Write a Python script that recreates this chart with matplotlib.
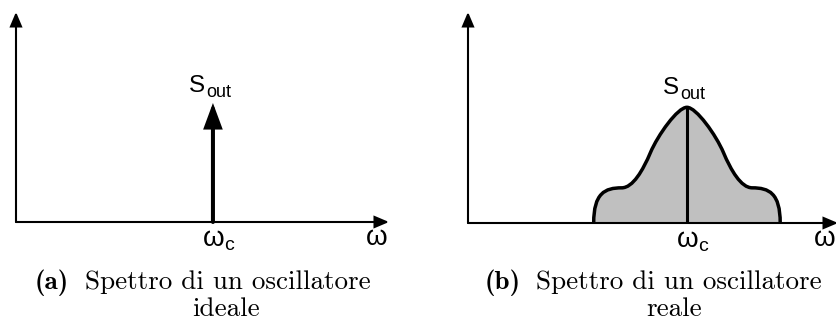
import matplotlib
matplotlib.use("Agg")
import matplotlib.pyplot as plt
from matplotlib.path import Path
from matplotlib.patches import PathPatch

plt.rcParams["font.family"] = ["Liberation Sans", "DejaVu Sans"]

W, H = 837, 322

# frequency axis (omega) and spectrum axis (S) lengths, arbitrary units
axis_len_x = [10.0, 9.92]
axis_len_y = [6.0, 6.0]

# (a) ideal oscillator: single spectral line
omega_c_ideal = 5.28
line_height = 3.4

# (b) real oscillator: centre frequency and half-profile of the spectrum
# (cubic bezier control points from the peak outwards, offsets from omega_c)
omega_c_real = 5.87
profile_dw = [0.00, 0.25, 0.78, 0.98, 1.18, 1.45, 1.75, 2.20, 2.50, 2.50]
profile_s = [3.29, 3.29, 2.50, 2.00, 1.50, 1.00, 1.00, 1.00, 0.85, 0.00]

captions = [("(a)", "Spettro di un oscillatore", "ideale"),
            ("(b)", "Spettro di un oscillatore", "reale")]


def px_axes(fig, x0, y_axis, x1, y_top):
    """axes placed by pixel box, origin at (x0, y_axis)"""
    ax = fig.add_axes([x0 / W, (H - y_axis) / H, (x1 - x0) / W, (y_axis - y_top) / H])
    ax.set_xlim(0, 10)
    ax.set_ylim(0, 6)
    ax.axis("off")
    return ax


def arrow(ax, start, end, lw, hl, hw):
    ax.annotate("", xy=end, xytext=start,
                arrowprops=dict(arrowstyle=f"-|>,head_length={hl},head_width={hw}",
                                lw=lw, color="black", mutation_scale=10,
                                shrinkA=0, shrinkB=0, joinstyle="miter"),
                annotation_clip=False)


def draw_axes(ax, lx, ly):
    arrow(ax, (0, 0), (lx, 0), 1.5, 0.85, 0.36)
    arrow(ax, (0, 0), (0, ly), 1.5, 0.85, 0.36)


def label_s(ax, x, top, dy):
    ax.text(x - 0.64, top + dy, "S", fontsize=17.5, ha="left", va="baseline")
    ax.text(x - 0.17, top + dy - 0.13, "out", fontsize=13, ha="left", va="baseline")


def label_omega(ax, wc, x_omega):
    ax.text(wc - 0.28, -0.69, "ω", fontsize=20, ha="left", va="baseline")
    ax.text(wc + 0.31, -0.8, "c", fontsize=14, ha="left", va="baseline")
    ax.text(x_omega, -0.66, "ω", fontsize=20, ha="left", va="baseline")


def main():
    fig = plt.figure(figsize=(W / 100, H / 100), dpi=100)

    # (a) ideal spectrum
    ax1 = px_axes(fig, 16, 222, 389, 12)
    draw_axes(ax1, axis_len_x[0], axis_len_y[0])
    arrow(ax1, (omega_c_ideal, 0), (omega_c_ideal, line_height), 2.9, 1.35, 0.5)
    label_s(ax1, omega_c_ideal, line_height, 0.31)
    label_omega(ax1, omega_c_ideal, 9.38)

    # (b) real spectrum
    ax2 = px_axes(fig, 468, 223, 841, 12)
    right = [(omega_c_real + dw, s) for dw, s in zip(profile_dw, profile_s)]
    left = [(omega_c_real - dw, s) for dw, s in zip(profile_dw, profile_s)][::-1]
    verts = left + right[1:]
    codes = [Path.MOVETO] + [Path.CURVE4] * (len(verts) - 1)
    outline = Path(verts, codes)
    fill = Path(verts + [verts[0]], codes + [Path.LINETO])
    ax2.add_patch(PathPatch(fill, facecolor="#c0c0c0", edgecolor="none", zorder=1))
    ax2.add_patch(PathPatch(outline, facecolor="none", edgecolor="black",
                            lw=2.5, zorder=3, clip_on=False))
    ax2.plot([omega_c_real, omega_c_real], [0, profile_s[0]], color="black",
             lw=2.2, zorder=3, solid_capstyle="butt")
    draw_axes(ax2, axis_len_x[1], axis_len_y[1])
    label_s(ax2, omega_c_real, profile_s[0], 0.37)
    label_omega(ax2, omega_c_real, 9.28)

    # subfigure captions
    for (tag, line1, line2), x_tag, x_text, x_line2 in zip(
            captions, [35, 485], [85, 536], [192, 646]):
        fig.text(x_tag / W, 1 - 289 / H, tag, family="cmb10", fontsize=19.5,
                 ha="left", va="baseline")
        fig.text(x_text / W, 1 - 289 / H, line1, family="cmr10", fontsize=19.5,
                 ha="left", va="baseline")
        fig.text(x_line2 / W, 1 - 316 / H, line2, family="cmr10", fontsize=19.5,
                 ha="left", va="baseline")

    fig.savefig("out.png", dpi=100)


if __name__ == "__main__":
    main()
